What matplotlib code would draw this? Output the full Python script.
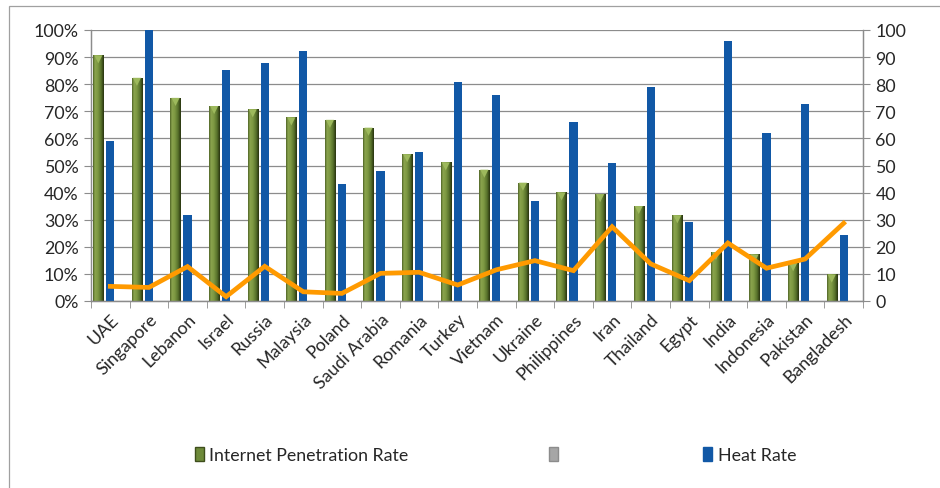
import numpy as np
import matplotlib
matplotlib.use("Agg")
import matplotlib.pyplot as plt
from matplotlib.patches import Rectangle, Patch
from matplotlib.colors import LinearSegmentedColormap
from matplotlib import transforms

countries = ["UAE", "Singapore", "Lebanon", "Israel", "Russia", "Malaysia", "Poland",
             "Saudi Arabia", "Romania", "Turkey", "Vietnam", "Ukraine", "Philippines",
             "Iran", "Thailand", "Egypt", "India", "Indonesia", "Pakistan", "Bangladesh"]
internet_penetration = [90.7, 82.4, 75.0, 72.0, 70.8, 67.8, 66.9, 64.0, 54.2, 51.2,
                        48.5, 43.7, 40.1, 39.5, 35.1, 31.7, 18.1, 17.2, 14.0, 9.8]
heat_rate = [59.0, 100.0, 31.8, 85.2, 87.8, 92.1, 43.0, 48.0, 54.9, 80.9,
             75.9, 36.9, 65.9, 51.0, 79.0, 29.2, 95.8, 62.1, 72.8, 24.2]
trend = [5.4, 5.0, 12.7, 1.6, 12.8, 3.4, 2.8, 10.2, 10.6, 5.9,
         11.5, 14.9, 11.2, 27.4, 13.7, 7.5, 21.4, 12.1, 15.5, 28.7]
left_ticks = [0, 10, 20, 30, 40, 50, 60, 70, 80, 90, 100]
left_tick_labels = [f"{t}%" for t in left_ticks]
right_ticks = left_ticks

plt.rcParams["font.family"] = ["Lato", "DejaVu Sans"]
FS = 12.8

GREEN = "#6E8A3A"
BLUE = "#1158A6"
ORANGE = "#FF9A00"
GRID = "#8C8C8C"
TEXT = "#262626"

fig = plt.figure(figsize=(9.4, 4.89), dpi=100)
ax = fig.add_axes([91 / 940, 1 - 302 / 489, (863 - 91) / 940, (302 - 31) / 489])
ax2 = ax.twinx()

x = np.arange(len(countries))
gwidth = 0.27
bwidth = 0.21
goff = -0.31

ax.set_xlim(-0.5, len(countries) - 0.5)
ax.set_ylim(0, 100)
ax2.set_ylim(0, 100)

# horizontal gridlines
ax.set_yticks(left_ticks)
ax.set_yticklabels(left_tick_labels)
ax.yaxis.grid(True, color=GRID, linewidth=0.9)
ax.set_axisbelow(True)

# shaded green columns
green_cmap = LinearSegmentedColormap.from_list(
    "greenbar", [(0.0, "#4E6326"), (0.18, "#8BA54E"), (0.45, "#7C9742"),
                 (0.75, "#56702A"), (1.0, "#27320F")])
gbars = ax.bar(x + goff, internet_penetration, width=gwidth, color=GREEN,
               edgecolor="none", zorder=2)
grad = np.linspace(0, 1, 64).reshape(1, -1)
for b in gbars:
    x0, w, h = b.get_x(), b.get_width(), b.get_height()
    im = ax.imshow(grad, cmap=green_cmap, aspect="auto",
                   extent=(x0, x0 + w, 0, h), zorder=2.1, interpolation="bilinear")
    im.set_clip_path(b)
ax.set_xlim(-0.5, len(countries) - 0.5)
ax.set_ylim(0, 100)
tip = transforms.offset_copy(ax.transData, fig=fig, x=0, y=-3.0, units="points")
ax.scatter(x + goff, internet_penetration, marker="v", s=34, color="#9DB95C",
           edgecolors="none", transform=tip, zorder=2.2, clip_on=False)

# blue columns and trend line on the secondary axis
ax2.bar(x, heat_rate, width=bwidth, color=BLUE, edgecolor="none", zorder=2)
ax2.plot(x, trend, color=ORANGE, linewidth=3.4, zorder=3, solid_joinstyle="miter")
ax2.set_yticks(right_ticks)
ax2.set_yticklabels([str(t) for t in right_ticks])

for a in (ax, ax2):
    for s in a.spines.values():
        s.set_color(GRID)
        s.set_linewidth(0.9)
    a.spines["top"].set_visible(False)
ax.tick_params(axis="y", length=5, color=GRID, pad=4, labelsize=FS, labelcolor=TEXT)
ax2.tick_params(axis="y", length=5, color=GRID, pad=4, labelsize=FS, labelcolor=TEXT)

# category labels between boundary ticks
ax.set_xticks(x)
ax.set_xticklabels(countries, rotation=45, ha="right", rotation_mode="anchor",
                   fontsize=FS, color=TEXT)
ax.tick_params(axis="x", which="major", length=0, pad=7)
ax.set_xticks(np.arange(-0.5, len(countries) + 0.5, 1), minor=True)
ax.tick_params(axis="x", which="minor", length=5, color=GRID)
ax2.tick_params(axis="x", which="both", length=0)

handles = [Patch(facecolor=GREEN, edgecolor="#3E4E1C"),
           Patch(facecolor="#A6A6A6", edgecolor="#8C8C8C"),
           Patch(facecolor=BLUE, edgecolor=BLUE)]
fig.legend(handles, ["Internet Penetration Rate", "", "Heat Rate"], ncol=3,
           loc="center", bbox_to_anchor=(0.527, 1 - 456 / 489), frameon=False,
           handlelength=0.5, handleheight=0.8, handletextpad=0.3,
           columnspacing=7.9, fontsize=FS, labelcolor=TEXT)

fig.add_artist(Rectangle((9 / 940, -0.1), 1.2, 1 - 7 / 489 + 0.1, transform=fig.transFigure,
                         fill=False, edgecolor="#A0A0A0", linewidth=0.9))

fig.savefig("out.png", dpi=100)
